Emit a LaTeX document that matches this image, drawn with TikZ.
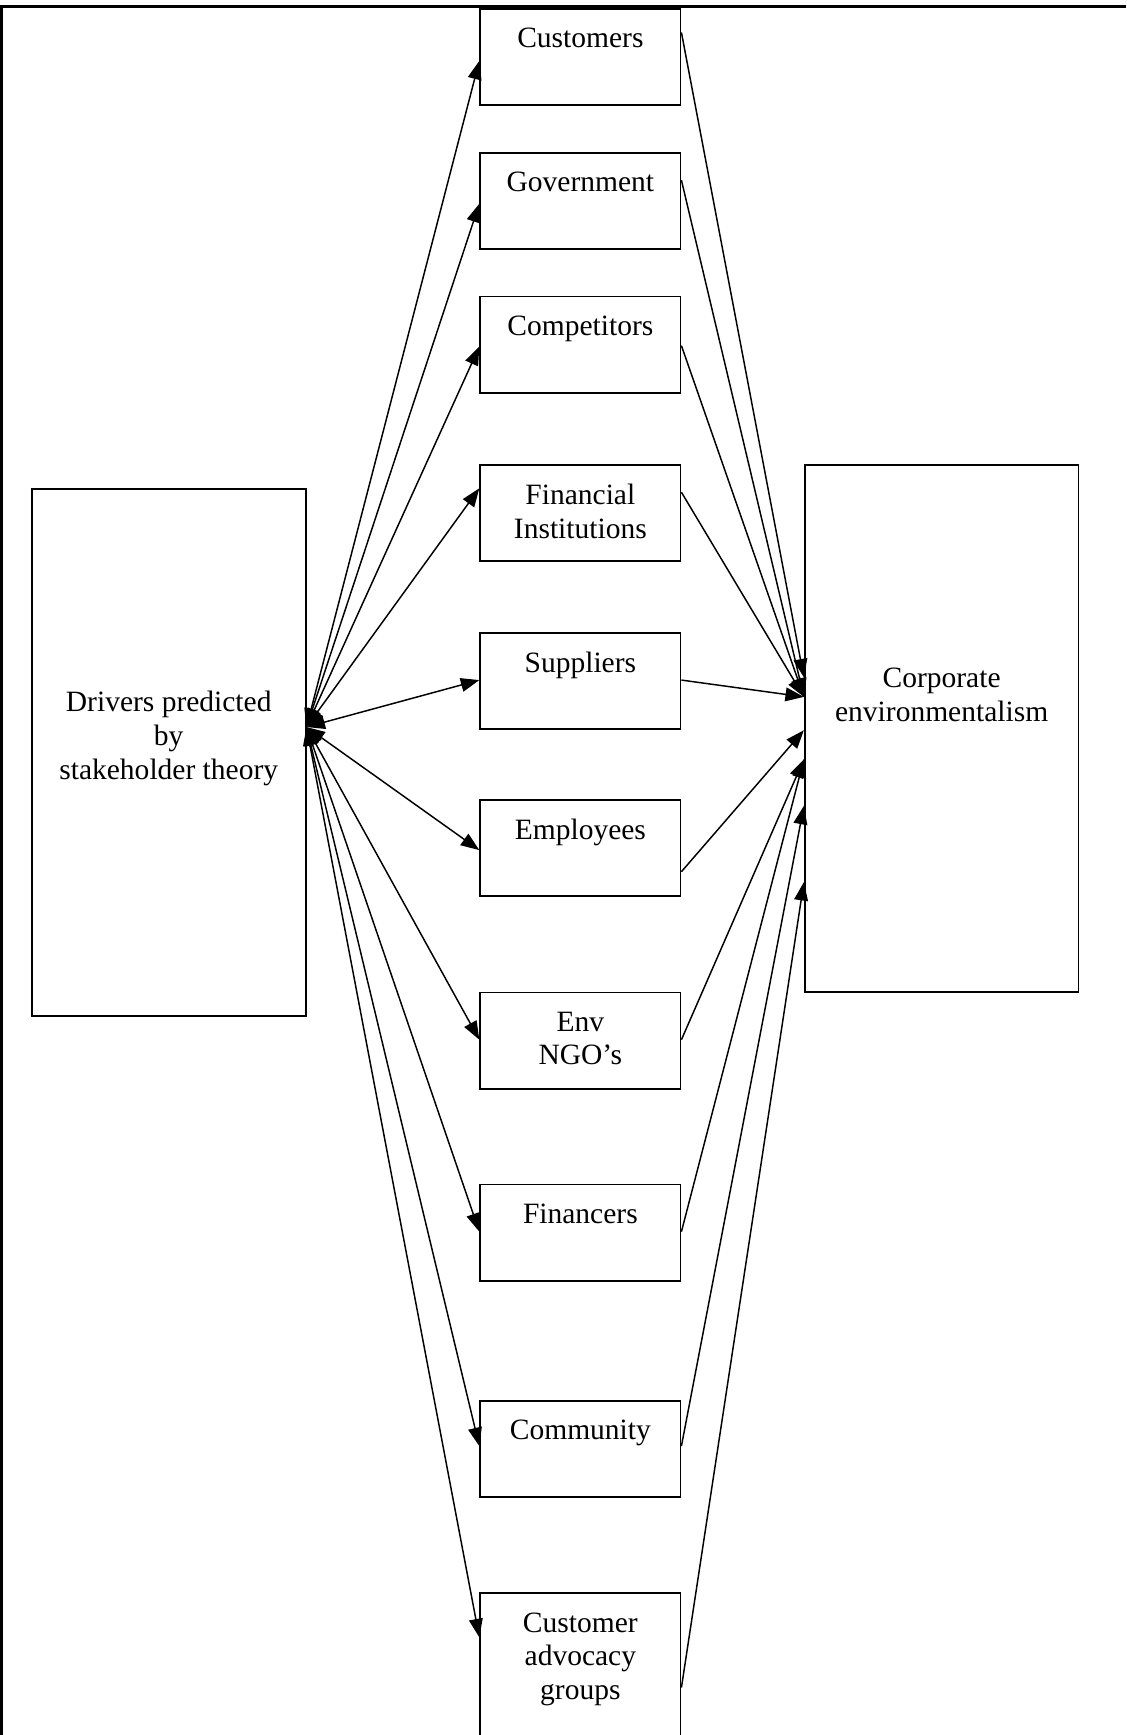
\documentclass[tikz,border=0pt]{standalone}
\usepackage{fontspec}
\setmainfont{Liberation Serif}
\usetikzlibrary{calc,arrows.meta}
\tikzset{
  box/.style={draw, line width=0.75pt, inner sep=0pt, minimum width=81.45pt, minimum height=39.15pt},
  bigbox/.style={draw, line width=0.75pt, inner sep=0pt, minimum width=111.3pt, minimum height=214.4pt},
  lbl/.style={anchor=north, inner sep=0pt, align=center, font=\fontsize{12}{13.7}\selectfont},
  lnk/.style={line width=0.6pt, >={Triangle[length=7.5pt,width=5.6pt]}},
  frame/.style={line width=1pt}
}
\begin{document}
\begin{tikzpicture}[x=0.45pt,y=-0.45pt]
\useasboundingbox (0,0) rectangle (1018,1568);
\clip (0,0) rectangle (1018,1568);
% frame
\coordinate (fa) at (1.5,1568);
\coordinate (fb) at (1.5,6);
\coordinate (fc) at (1018,6);
\draw[frame] (fa) -- (fb) -- (fc);
% big boxes
\node[bigbox] (drv) at (152.5,680) {};
\node[lbl] (drvt) at (152.5,624.5) {Drivers predicted\\by\\stakeholder theory};
\node[bigbox] (corp) at (851,658.5) {};
\node[lbl] (corpt) at (851,603.5) {Corporate\\environmentalism};
% stakeholder boxes
\node[box] (cust) at (524.5,51.5) {};
\node[lbl] (custt) at (524.5,25) {Customers};
\node[box] (gov) at (524.5,181.5) {};
\node[lbl] (govt) at (524.5,155) {Government};
\node[box] (comp) at (524.5,311.5) {};
\node[lbl] (compt) at (524.5,285) {Competitors};
\node[box] (fin) at (524.5,463.5) {};
\node[lbl] (fint) at (524.5,437) {Financial\\Institutions};
\node[box] (sup) at (524.5,615.5) {};
\node[lbl] (supt) at (524.5,589) {Suppliers};
\node[box] (emp) at (524.5,766.5) {};
\node[lbl] (empt) at (524.5,740) {Employees};
\node[box] (ngo) at (524.5,940.5) {};
\node[lbl] (ngot) at (524.5,914) {Env\\NGO’s};
\node[box] (finc) at (524.5,1114) {};
\node[lbl] (finct) at (524.5,1087.5) {Financers};
\node[box] (comm) at (524.5,1309.5) {};
\node[lbl] (commt) at (524.5,1283) {Community};
\node[box, minimum height=63pt] (cag) at (524.5,1510) {};
\node[lbl] (cagt) at (524.5,1457) {Customer\\advocacy\\groups};
% hub on drivers box
\coordinate (hub) at ($(drv.north east)!0.452!(drv.south east)$);
% left connectors
\draw[lnk,<->] (hub) -- ($(cust.north west)!0.54!(cust.south west)$);
\draw[lnk,<->] (hub) -- ($(gov.north west)!0.53!(gov.south west)$);
\draw[lnk,<->] (hub) -- ($(comp.north west)!0.52!(comp.south west)$);
\draw[lnk,<->] (hub) -- ($(fin.north west)!0.25!(fin.south west)$);
\draw[lnk,<->] (hub) -- ($(sup.north west)!0.49!(sup.south west)$);
\draw[lnk,<->] (hub) -- ($(emp.north west)!0.52!(emp.south west)$);
\draw[lnk,<->] (hub) -- ($(ngo.north west)!0.49!(ngo.south west)$);
\draw[lnk,<->] (hub) -- ($(finc.north west)!0.49!(finc.south west)$);
\draw[lnk,<->] (hub) -- ($(comm.north west)!0.47!(comm.south west)$);
\draw[lnk,<->] (hub) -- ($(cag.north west)!0.286!(cag.south west)$);
% right connectors
\draw[lnk,->] ($(cust.north east)!0.25!(cust.south east)$) -- ($(corp.north west)!0.403!(corp.south west)$);
\draw[lnk,->] ($(gov.north east)!0.29!(gov.south east)$) -- ($(corp.north west)!0.44!(corp.south west)$);
\draw[lnk,->] ($(comp.north east)!0.51!(comp.south east)$) -- ($(corp.north west)!0.44!(corp.south west)$);
\draw[lnk,->] ($(fin.north east)!0.29!(fin.south east)$) -- ($(corp.north west)!0.44!(corp.south west)$);
\draw[lnk,->] ($(sup.north east)!0.49!(sup.south east)$) -- ($(corp.north west)!0.44!(corp.south west)$);
\draw[lnk,->] ($(emp.north east)!0.74!(emp.south east)$) -- ($(corp.north west)!0.503!(corp.south west)$);
\draw[lnk,->] ($(ngo.north east)!0.49!(ngo.south east)$) -- ($(corp.north west)!0.558!(corp.south west)$);
\draw[lnk,->] ($(finc.north east)!0.49!(finc.south east)$) -- ($(corp.north west)!0.558!(corp.south west)$);
\draw[lnk,->] ($(comm.north east)!0.47!(comm.south east)$) -- ($(corp.north west)!0.646!(corp.south west)$);
\draw[lnk,->] ($(cag.north east)!0.607!(cag.south east)$) -- ($(corp.north west)!0.79!(corp.south west)$);
\end{tikzpicture}
\end{document}
